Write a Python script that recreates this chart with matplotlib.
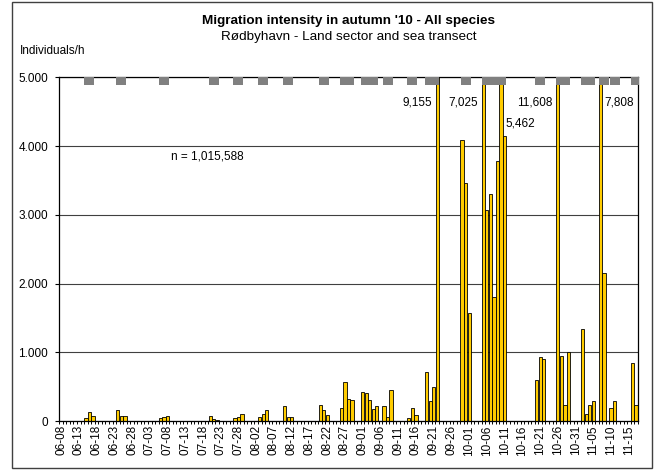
#! /usr/bin/env python3

import matplotlib

matplotlib.use("Agg")
import matplotlib.pyplot as plt
import numpy as np
import pandas
from matplotlib.patches import Rectangle

# season covered by the category axis
first_day = "2010-06-08"
last_day = "2010-11-17"

# observation days (mm-dd) and migration intensity [individuals/h]
count_days = [
    "06-15", "06-16", "06-17", "06-24", "06-25", "06-26",
    "07-06", "07-07", "07-08", "07-20", "07-21", "07-22",
    "07-27", "07-28", "07-29", "08-03", "08-04", "08-05",
    "08-10", "08-11", "08-12", "08-20", "08-21", "08-22",
    "08-26", "08-27", "08-28", "08-29",
    "09-01", "09-02", "09-03", "09-04", "09-05",
    "09-07", "09-08", "09-09", "09-14", "09-15", "09-16",
    "09-19", "09-20", "09-21", "09-22",
    "09-29", "09-30", "10-01",
    "10-05", "10-06", "10-07", "10-08", "10-09", "10-10", "10-11",
    "10-20", "10-21", "10-22",
    "10-26", "10-27", "10-28", "10-29",
    "11-02", "11-03", "11-04", "11-05",
    "11-07", "11-08", "11-10", "11-11", "11-16", "11-17",
]
intensity = [
    50, 138, 70, 167, 75, 70,
    41, 51, 70, 70, 32, 17,
    41, 61, 95, 65, 95, 167,
    220, 65, 65, 236, 167, 90,
    196, 570, 317, 308,
    415, 405, 308, 172, 221,
    211, 61, 458, 47, 192, 90,
    710, 298, 492, 9155,
    4083, 3461, 1569,
    7025, 3064, 3307, 1802, 3785, 5462, 4141,
    590, 935, 905,
    11608, 943, 240, 1011,
    1332, 105, 240, 298,
    7808, 2151, 192, 298, 847, 240,
]

# days flagged with grey boxes along the top of the chart
marked_days = [
    "06-16", "06-25", "07-07", "07-21", "07-28", "08-04", "08-11",
    "08-21", "08-27", "08-28", "09-02", "09-03", "09-04", "09-08",
    "09-15", "09-20", "09-21", "09-30",
    "10-06", "10-07", "10-08", "10-09", "10-10",
    "10-21", "10-27", "10-28", "11-03", "11-04", "11-08", "11-11", "11-17",
]

total_text = "n = 1,015,588"
ymax = 5000

# where the labels of the off-scale bars sit: (side, height)
offscale_style = {
    "09-22": ("right", 4630),
    "10-05": ("right", 4630),
    "10-10": ("left", 4330),
    "10-26": ("right", 4630),
    "11-07": ("left", 4630),
}

W, H = 662, 473


def px(x, y):
    return x / W, 1 - y / H


def plotIntensity(fig):
    days = pandas.date_range(first_day, last_day, freq="D")
    names = list(days.strftime("%m-%d"))
    pos = {n: i for i, n in enumerate(names)}

    left, top = 59.3, 77.3
    right, bottom = 637.7, 421.0
    ax = fig.add_axes(
        [left / W, 1 - bottom / H, (right - left) / W, (bottom - top) / H]
    )

    x = [pos[d] for d in count_days]
    ax.bar(
        x,
        intensity,
        width=0.9,
        color="#ffcc00",
        edgecolor="black",
        linewidth=0.6,
        zorder=2,
    )

    box = [(-1, -0.84), (1, -0.84), (1, 0.84), (-1, 0.84), (-1, -0.84)]
    mx = [pos[d] for d in marked_days]
    ax.plot(
        mx,
        [4939] * len(mx),
        linestyle="none",
        marker=box,
        markersize=7.2,
        color="#808080",
        markeredgewidth=0,
        zorder=3,
    )

    for d, v in zip(count_days, intensity):
        if v <= ymax:
            continue
        side, yy = offscale_style[d]
        if side == "right":
            ax.text(pos[d] - 1.4, yy, f"{v:,}", ha="right", va="center", fontsize=8.5)
        else:
            ax.text(pos[d] + 1.2, yy, f"{v:,}", ha="left", va="center", fontsize=8.5)

    ax.text(31, 3850, total_text, ha="left", va="center", fontsize=8.5)

    ax.set_xlim(-0.5, len(names) - 0.5)
    ax.set_ylim(0, ymax)

    ax.set_xticks(range(0, len(names), 5))
    ax.set_xticklabels(names[::5], rotation=90, fontsize=8.5)
    ax.set_xticks(np.arange(-0.5, len(names), 1), minor=True)
    ax.tick_params(axis="x", which="major", length=0, pad=3)
    ax.tick_params(axis="x", which="minor", length=2.5, width=0.7, direction="out")

    yt = np.arange(0, ymax + 1, 1000)
    ax.set_yticks(yt)
    ax.set_yticklabels([f"{v:,}".replace(",", ".") for v in yt], fontsize=8.5)
    ax.tick_params(axis="y", length=3, width=0.8, direction="out", pad=5)

    ax.yaxis.grid(True, color="#404040", linewidth=0.8)
    ax.set_axisbelow(True)
    for s in ax.spines.values():
        s.set_color("black")
        s.set_linewidth(0.9)
    return ax


def main():
    plt.rcParams["font.family"] = ["Liberation Sans", "DejaVu Sans"]

    fig = plt.figure(figsize=(W / 100, H / 100), dpi=100)
    plotIntensity(fig)

    fig.text(*px(348.5, 21), "Migration intensity in autumn '10 - All species",
             ha="center", va="center", fontsize=9.7, fontweight="bold")
    fig.text(*px(348.5, 37), "Rødbyhavn - Land sector and sea transect",
             ha="center", va="center", fontsize=9.7)
    fig.text(*px(20, 51), "Individuals/h", ha="left", va="center", fontsize=8.5)

    x0, y0 = px(12, 468)
    x1, y1 = px(652, 2)
    fig.add_artist(
        Rectangle((x0, y0), x1 - x0, y1 - y0, transform=fig.transFigure,
                  fill=False, edgecolor="#404040", linewidth=1)
    )

    fig.savefig("out.png", dpi=100)
    return 0


if __name__ == "__main__":
    import sys

    sys.exit(main())
